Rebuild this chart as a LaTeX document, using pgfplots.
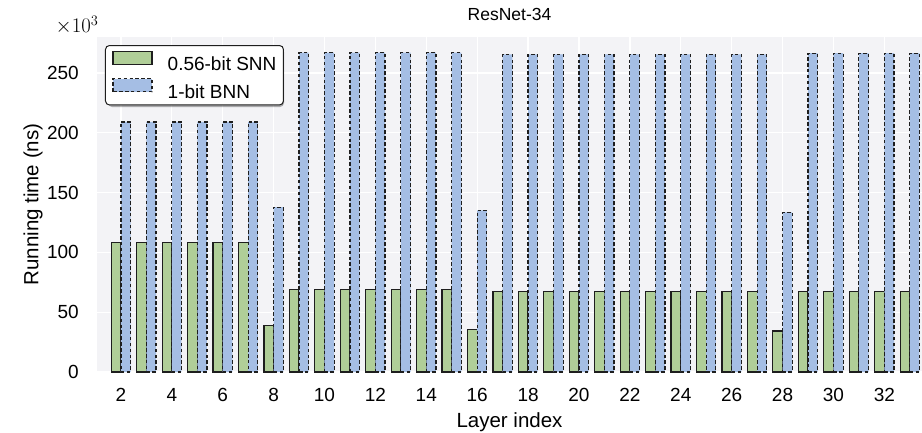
\documentclass[border=0pt]{standalone}
\usepackage{pgfplots}
\pgfplotsset{compat=1.18}
\usepackage{pgfplotstable}
\usepackage{fontspec}
\setmainfont{Liberation Sans}
\definecolor{bgc}{RGB}{243,243,246}
\definecolor{snn}{RGB}{176,206,152}
\definecolor{bnn}{RGB}{165,190,228}
\definecolor{edge}{RGB}{30,30,30}

\pgfplotstableread{
layer snn bnn
2 108.3 209
3 108.3 209
4 108.3 209
5 108.3 209
6 108.3 209
7 108.3 209
8 38.6 137.8
9 68.9 267
10 68.9 267
11 68.9 267
12 68.9 267
13 68.9 267
14 68.9 267
15 68.9 267
16 35.6 135
17 67.3 265.5
18 67.3 265.5
19 67.3 265.5
20 67.3 265.5
21 67.3 265.5
22 67.3 265.5
23 67.3 265.5
24 67.3 265.5
25 67.3 265.5
26 67.3 265.5
27 67.3 265.5
28 34.2 133.5
29 67.3 266.5
30 67.3 266.5
31 67.3 266.5
32 67.3 266.5
33 67.3 266.5
}\data

\newcommand{\fs}{\fontsize{19}{22}\selectfont}
\newcommand{\fl}{\fontsize{20.5}{24}\selectfont}

\pgfplotsset{mylegend/.style={legend image code/.code={\draw[##1, sharp corners] (0pt,0.5pt) rectangle (39pt,13.5pt);}}}

\begin{document}
\begin{tikzpicture}
\begin{axis}[
  at={(0,0)}, anchor=south west,
  scale only axis, width=825pt, height=335pt,
  xmin=1.06, xmax=33.48, ymin=0, ymax=280,
  clip mode=individual,
  axis background/.style={fill=bgc},
  axis line style={draw=none},
  grid=major, major grid style={white, line width=1.3pt},
  xtick={2,4,...,32}, ytick={0,50,...,250},
  tick style={draw=none},
  /pgf/number format/assume math mode=true,
  ticklabel style={font=\fs, inner sep=0pt},
  xticklabel style={anchor=north, yshift=-16pt},
  yticklabel style={anchor=east, xshift=-18pt},
  xlabel={Layer index},
  ylabel={Running time (ns)},
  xlabel style={font=\fl, at={(axis description cs:0.5,0)}, anchor=center, yshift=-50pt},
  ylabel style={font=\fl, at={(axis description cs:0,0.5)}, anchor=center, yshift=64pt},
  title={ResNet-34},
  title style={font=\fontsize{17.5}{21}\selectfont, at={(axis description cs:0.5,1)}, anchor=center, yshift=17pt},
  bar width=0.38,
  legend cell align=left,
  legend style={at={(axis description cs:0,1)}, anchor=north west, xshift=8pt, yshift=-8pt,
    draw=edge, line width=1pt, rounded corners=4pt, fill=white,
    font=\fs, inner xsep=7pt, inner ysep=5pt, row sep=6pt, column sep=15pt,
    nodes={inner sep=0pt}},
]
\addplot[ybar, bar shift=-0.19, fill=snn, draw=edge, line width=1.2pt, mylegend] table[x=layer, y=snn] {\data};
\addplot[ybar, bar shift=0.19, fill=bnn, draw=edge, line width=1.2pt, dash pattern=on 3.5pt off 2.4pt, mylegend] table[x=layer, y=bnn] {\data};
\legend{0.56-bit SNN, 1-bit BNN}
\fill[black, opacity=0.3, rounded corners=4pt] ([shift={(11pt,-11pt)}]rel axis cs:0,1) rectangle ([shift={(187pt,-70pt)}]rel axis cs:0,1);
\node[anchor=center, font=\fontsize{20}{22}\selectfont] at (rel axis cs:0,1) [xshift=-20pt, yshift=12pt] {$\times 10^{3}$};
\end{axis}
\pgfresetboundingbox
\path[use as bounding box] (-97pt,-60pt) rectangle (825pt,372pt);
\end{tikzpicture}
\end{document}
